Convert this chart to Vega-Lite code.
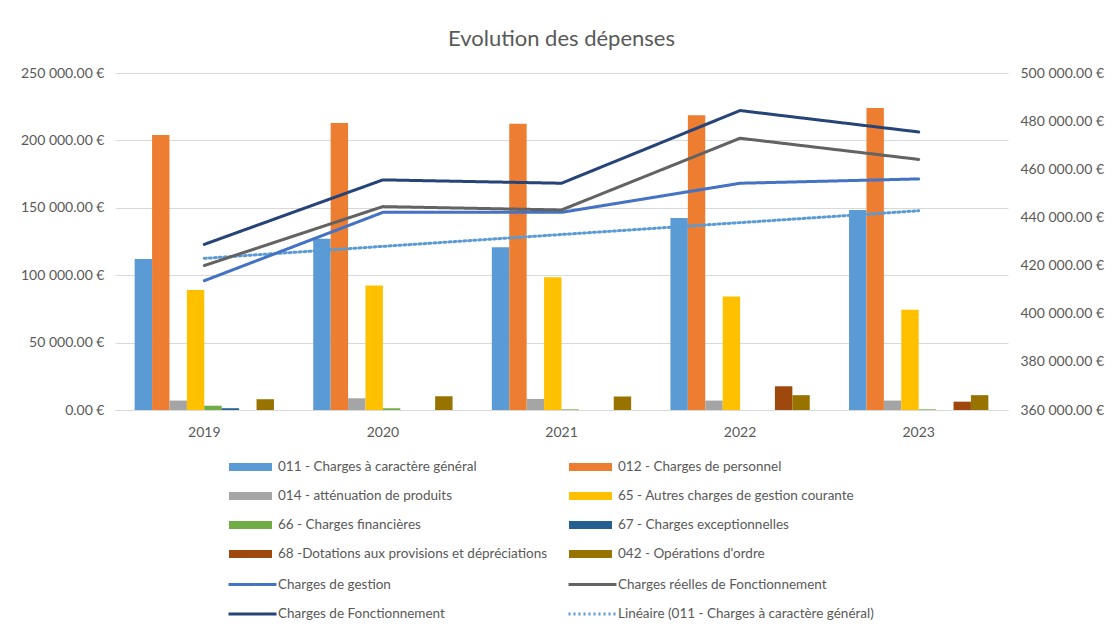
{
  "$schema": "https://vega.github.io/schema/vega-lite/v6.json",
  "autosize": {"type": "none"},
  "padding": {"left": 115, "top": 73, "right": 107, "bottom": 220},
  "width": 893,
  "height": 337,
  "background": "white",
  "title": {"text": "Evolution des dépenses", "fontSize": 22, "color": "#595959", "fontWeight": "normal", "offset": 15, "anchor": "middle"},
  "config": {
    "font": "Lato",
    "view": {"stroke": null},
    "locale": {"number": {"decimal": ".", "thousands": " ", "grouping": [3], "currency": ["", " €"]}},
    "axis": {"labelColor": "#595959", "labelFontSize": 14, "title": null, "ticks": false, "domain": false, "grid": false},
    "legend": {"labelColor": "#595959", "labelFontSize": 13.5, "title": null}
  },
  "datasets": {
    "bars": [
      {"year": "2019", "series": "011 - Charges à caractère général", "value": 112000},
      {"year": "2019", "series": "012 - Charges de personnel", "value": 204000},
      {"year": "2019", "series": "014 - atténuation de produits", "value": 7000},
      {"year": "2019", "series": "65 - Autres charges de gestion courante", "value": 89000},
      {"year": "2019", "series": "66 - Charges financières", "value": 3200},
      {"year": "2019", "series": "67 - Charges exceptionnelles", "value": 1300},
      {"year": "2019", "series": "68 -Dotations aux provisions et dépréciations", "value": 0},
      {"year": "2019", "series": "042 - Opérations d'ordre", "value": 8000},
      {"year": "2020", "series": "011 - Charges à caractère général", "value": 127000},
      {"year": "2020", "series": "012 - Charges de personnel", "value": 213000},
      {"year": "2020", "series": "014 - atténuation de produits", "value": 8700},
      {"year": "2020", "series": "65 - Autres charges de gestion courante", "value": 92300},
      {"year": "2020", "series": "66 - Charges financières", "value": 1300},
      {"year": "2020", "series": "67 - Charges exceptionnelles", "value": 0},
      {"year": "2020", "series": "68 -Dotations aux provisions et dépréciations", "value": 0},
      {"year": "2020", "series": "042 - Opérations d'ordre", "value": 10200},
      {"year": "2021", "series": "011 - Charges à caractère général", "value": 120800},
      {"year": "2021", "series": "012 - Charges de personnel", "value": 212400},
      {"year": "2021", "series": "014 - atténuation de produits", "value": 8200},
      {"year": "2021", "series": "65 - Autres charges de gestion courante", "value": 98500},
      {"year": "2021", "series": "66 - Charges financières", "value": 500},
      {"year": "2021", "series": "67 - Charges exceptionnelles", "value": 0},
      {"year": "2021", "series": "68 -Dotations aux provisions et dépréciations", "value": 0},
      {"year": "2021", "series": "042 - Opérations d'ordre", "value": 10000},
      {"year": "2022", "series": "011 - Charges à caractère général", "value": 142500},
      {"year": "2022", "series": "012 - Charges de personnel", "value": 218700},
      {"year": "2022", "series": "014 - atténuation de produits", "value": 7000},
      {"year": "2022", "series": "65 - Autres charges de gestion courante", "value": 84200},
      {"year": "2022", "series": "66 - Charges financières", "value": 0},
      {"year": "2022", "series": "67 - Charges exceptionnelles", "value": 0},
      {"year": "2022", "series": "68 -Dotations aux provisions et dépréciations", "value": 17600},
      {"year": "2022", "series": "042 - Opérations d'ordre", "value": 11000},
      {"year": "2023", "series": "011 - Charges à caractère général", "value": 148400},
      {"year": "2023", "series": "012 - Charges de personnel", "value": 224000},
      {"year": "2023", "series": "014 - atténuation de produits", "value": 7000},
      {"year": "2023", "series": "65 - Autres charges de gestion courante", "value": 74300},
      {"year": "2023", "series": "66 - Charges financières", "value": 500},
      {"year": "2023", "series": "67 - Charges exceptionnelles", "value": 0},
      {"year": "2023", "series": "68 -Dotations aux provisions et dépréciations", "value": 6200},
      {"year": "2023", "series": "042 - Opérations d'ordre", "value": 11000}
    ],
    "lines": [
      {"year": "2019", "series": "Charges de gestion", "value": 413700},
      {"year": "2020", "series": "Charges de gestion", "value": 442100},
      {"year": "2021", "series": "Charges de gestion", "value": 442100},
      {"year": "2022", "series": "Charges de gestion", "value": 454200},
      {"year": "2023", "series": "Charges de gestion", "value": 456000},
      {"year": "2019", "series": "Charges réelles de Fonctionnement", "value": 420000},
      {"year": "2020", "series": "Charges réelles de Fonctionnement", "value": 444500},
      {"year": "2021", "series": "Charges réelles de Fonctionnement", "value": 443100},
      {"year": "2022", "series": "Charges réelles de Fonctionnement", "value": 472900},
      {"year": "2023", "series": "Charges réelles de Fonctionnement", "value": 464100},
      {"year": "2019", "series": "Charges de Fonctionnement", "value": 428800},
      {"year": "2020", "series": "Charges de Fonctionnement", "value": 455600},
      {"year": "2021", "series": "Charges de Fonctionnement", "value": 454200},
      {"year": "2022", "series": "Charges de Fonctionnement", "value": 484400},
      {"year": "2023", "series": "Charges de Fonctionnement", "value": 475500}
    ],
    "trend": [
      {"year": "2019", "series": "Linéaire (011 - Charges à caractère général)", "value": 112500},
      {"year": "2020", "series": "Linéaire (011 - Charges à caractère général)", "value": 121400},
      {"year": "2021", "series": "Linéaire (011 - Charges à caractère général)", "value": 130200},
      {"year": "2022", "series": "Linéaire (011 - Charges à caractère général)", "value": 139000},
      {"year": "2023", "series": "Linéaire (011 - Charges à caractère général)", "value": 147800}
    ]
  },
  "encoding": {
    "x": {"field": "year", "type": "ordinal", "scale": {"paddingInner": 0.22, "paddingOuter": 0.11},
      "axis": {"labelAngle": 0, "domain": true, "domainColor": "#d9d9d9", "labelPadding": 15}}
  },
  "layer": [
    {
      "layer": [
        {
          "data": {"name": "bars"},
          "mark": {"type": "bar"},
          "encoding": {
            "xOffset": {"field": "series", "type": "nominal", "scale": {"paddingInner": 0, "paddingOuter": 0, "domain": ["011 - Charges à caractère général", "012 - Charges de personnel", "014 - atténuation de produits", "65 - Autres charges de gestion courante", "66 - Charges financières", "67 - Charges exceptionnelles", "68 -Dotations aux provisions et dépréciations", "042 - Opérations d'ordre"]}},
            "y": {"field": "value", "type": "quantitative", "scale": {"domain": [0, 250000], "nice": false},
              "axis": {"orient": "left", "format": "$,.2f", "values": [0, 50000, 100000, 150000, 200000, 250000], "grid": true, "gridColor": "#d9d9d9", "labelPadding": 11}},
            "color": {"field": "series", "type": "nominal",
              "scale": {"domain": ["011 - Charges à caractère général", "012 - Charges de personnel", "014 - atténuation de produits", "65 - Autres charges de gestion courante", "66 - Charges financières", "67 - Charges exceptionnelles", "68 -Dotations aux provisions et dépréciations", "042 - Opérations d'ordre"],
                "range": ["#5B9BD5", "#ED7D31", "#A5A5A5", "#FFC000", "#70AD47", "#255E91", "#9E480E", "#997300"]},
              "legend": {"orient": "none", "legendX": 113, "legendY": 371.5, "direction": "horizontal", "columns": 2, "columnPadding": 20, "rowPadding": 0, "symbolType": "M-1,-0.186H1V0.186H-1Z", "symbolSize": 1849, "symbolOpacity": 1, "labelOffset": 5, "labelLimit": 400}}
          }
        },
        {
          "data": {"name": "trend"},
          "mark": {"type": "line", "strokeCap": "round"},
          "encoding": {
            "y": {"field": "value", "type": "quantitative", "scale": {"domain": [0, 250000], "nice": false}},
            "stroke": {"field": "series", "type": "nominal"},
            "strokeDash": {"field": "series", "type": "nominal"},
            "strokeWidth": {"field": "series", "type": "nominal"}
          }
        }
      ]
    },
    {
      "data": {"name": "lines"},
      "mark": {"type": "line", "strokeCap": "round", "strokeJoin": "round"},
      "encoding": {
        "y": {"field": "value", "type": "quantitative", "scale": {"domain": [360000, 500000], "nice": false},
          "axis": {"orient": "right", "format": "$,.2f", "values": [360000, 380000, 400000, 420000, 440000, 460000, 480000, 500000], "labelPadding": 12}},
        "stroke": {"field": "series", "type": "nominal",
          "scale": {"domain": ["Charges de gestion", "Charges réelles de Fonctionnement", "Charges de Fonctionnement", "Linéaire (011 - Charges à caractère général)"],
            "range": ["#4472C4", "#636363", "#264478", "#5B9BD5"]},
          "legend": {"orient": "none", "legendX": 120, "legendY": 494, "direction": "horizontal", "columns": 2, "columnPadding": 117, "rowPadding": 5.5, "symbolType": "M-1.5,0H1.5", "symbolSize": 1024, "labelOffset": 8, "labelLimit": 400}},
        "strokeDash": {"field": "series", "type": "nominal",
          "scale": {"domain": ["Charges de gestion", "Charges réelles de Fonctionnement", "Charges de Fonctionnement", "Linéaire (011 - Charges à caractère général)"],
            "range": [[1, 0], [1, 0], [1, 0], [2, 3]]}},
        "strokeWidth": {"field": "series", "type": "nominal",
          "scale": {"domain": ["Charges de gestion", "Charges réelles de Fonctionnement", "Charges de Fonctionnement", "Linéaire (011 - Charges à caractère général)"],
            "range": [3, 3, 3, 2]}}
      }
    }
  ],
  "resolve": {"scale": {"y": "independent"}}
}
